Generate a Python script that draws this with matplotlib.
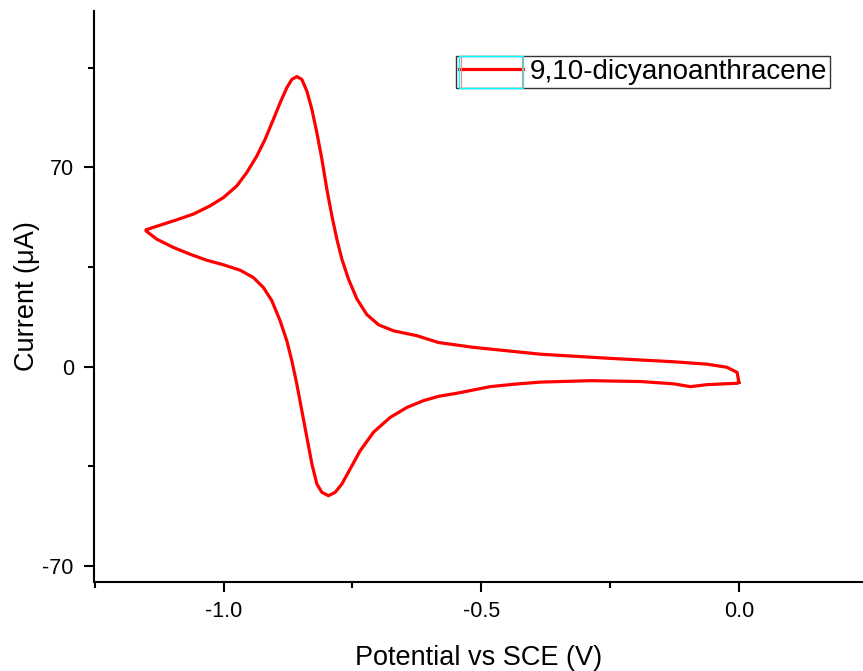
import numpy as np
import matplotlib
matplotlib.use('Agg')
import matplotlib.pyplot as plt
from matplotlib.patches import Rectangle
from matplotlib.lines import Line2D
from matplotlib.ticker import MultipleLocator

plt.rcParams['font.family'] = ['Liberation Sans', 'DejaVu Sans']
plt.rcParams['axes.unicode_minus'] = False

# forward scan (upper branch), from 0 V towards negative potential
E_fwd = [0.0, -0.0035, -0.023, -0.062, -0.127, -0.256, -0.385, -0.450, -0.515, -0.583,
         -0.625, -0.670, -0.699, -0.722, -0.7414, -0.7577, -0.7705, -0.7802,
         -0.7899, -0.7996, -0.8093, -0.819, -0.8287, -0.8384, -0.8482, -0.8579, -0.8676, -0.8773,
         -0.8903, -0.9033, -0.9194, -0.9355, -0.955, -0.9744, -1.0004, -1.0262, -1.0586, -1.0909,
         -1.1233, -1.1505]
I_fwd = [-5.5, -2.0, -0.2, 0.9, 1.75, 3.0, 4.4, 5.6, 6.8, 8.5,
         10.9, 12.6, 14.7, 18.3, 23.8, 30.8, 37.8, 44.8,
         53.0, 62.3, 72.9, 82.2, 90.4, 96.8, 100.9, 101.9, 100.9, 98.0,
         92.7, 86.9, 79.9, 74.0, 68.2, 63.5, 59.4, 56.5, 53.6, 51.6,
         49.7, 48.1]

# reverse scan (lower branch), back to 0 V
E_rev = [-1.1505, -1.1298, -1.0975, -1.065, -1.0326, -1.0004, -0.968, -0.9421, -0.9227, -0.9064,
         -0.8903, -0.8773, -0.8676, -0.8579, -0.8482, -0.8384, -0.8287, -0.819, -0.8093, -0.7965,
         -0.7835, -0.7705, -0.7544, -0.735, -0.7091, -0.6767, -0.6443, -0.612, -0.5829, -0.547,
         -0.483, -0.434, -0.385, -0.288, -0.191, -0.127, -0.094, -0.062, -0.003, 0.0]
I_rev = [47.7, 44.8, 41.9, 39.5, 37.4, 35.8, 33.9, 31.3, 27.8, 23.2,
         16.1, 9.1, 2.1, -6.1, -15.4, -24.8, -34.1, -41.2, -44.1, -45.3,
         -44.1, -41.2, -35.9, -29.5, -23.0, -17.8, -14.3, -11.9, -10.4, -9.3,
         -7.0, -6.1, -5.4, -4.9, -5.2, -6.0, -7.0, -6.3, -5.8, -5.5]

E = np.array(E_fwd + E_rev)
I = np.array(I_fwd + I_rev)

fig = plt.figure(figsize=(8.63, 6.71), dpi=100)
ax = fig.add_axes([94/863, 89/671, 1 - 94/863, 571.5/671])

ax.plot(E, I, color='#ff0000', lw=2.3, solid_joinstyle='round',
        label='9,10-dicyanoanthracene')

ax.set_xlim(-1.2515, 0.2408)
ax.set_ylim(-75.6, 125.1)

ax.xaxis.set_major_locator(MultipleLocator(0.5))
ax.xaxis.set_minor_locator(MultipleLocator(0.25))
ax.yaxis.set_major_locator(MultipleLocator(70))
ax.yaxis.set_minor_locator(MultipleLocator(35))
ax.xaxis.set_major_formatter(plt.FormatStrFormatter('%.1f'))

for s in ['top', 'right']:
    ax.spines[s].set_visible(False)
for s in ['left', 'bottom']:
    ax.spines[s].set_linewidth(1.5)

ax.tick_params(which='major', direction='out', length=7.5, width=1.5, labelsize=15.5)
ax.tick_params(which='minor', direction='out', length=4, width=1.5)
ax.tick_params(axis='y', which='major', pad=7)
ax.tick_params(axis='x', which='major', pad=6)

ax.set_xlabel('Potential vs SCE (V)', fontsize=19.5, labelpad=17)
ax.set_ylabel('Current (\u03bcA)', fontsize=19.5, labelpad=2)

leg = ax.legend(loc='upper left', bbox_to_anchor=(456/863, 1 - 56/671),
                bbox_transform=fig.transFigure, fontsize=20, frameon=True,
                fancybox=False, edgecolor='black', borderpad=0.1,
                handlelength=2.3, handletextpad=0.25, borderaxespad=0)
leg.get_frame().set_linewidth(1.0)

# Origin-style cyan box and end caps around the legend symbol
fig.canvas.draw()
r = fig.canvas.get_renderer()
fb = leg.get_frame().get_window_extent(r)
hb = leg.legend_handles[0].get_window_extent(r)
W, H = 863, 671
fig.add_artist(Rectangle((hb.x0 / W, fb.y0 / H), (hb.x1 - hb.x0) / W,
                         (fb.y1 - fb.y0) / H, transform=fig.transFigure,
                         fill=False, ec='cyan', lw=1.0))
for xc in (hb.x0 + 2, hb.x1 - 1):
    fig.add_artist(Line2D([xc / W, xc / W], [(fb.y0 + 1) / H, (fb.y1 - 1) / H],
                          transform=fig.transFigure, color='#ff8080', lw=0.8))

fig.savefig('out.png', dpi=100)
